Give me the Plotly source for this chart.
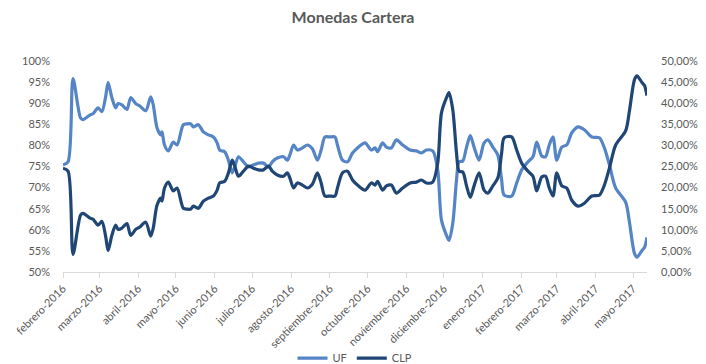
import plotly.graph_objects as go

dates = [
    "2016-02-01", "2016-02-05", "2016-02-09", "2016-02-15", "2016-02-17", "2016-02-23", "2016-02-25", "2016-02-29", "2016-03-03", "2016-03-06",
    "2016-03-08", "2016-03-11", "2016-03-14", "2016-03-16", "2016-03-19", "2016-03-23", "2016-03-26", "2016-03-30", "2016-04-02", "2016-04-07",
    "2016-04-11", "2016-04-13", "2016-04-16", "2016-04-19", "2016-04-20", "2016-04-22", "2016-04-25", "2016-04-29", "2016-05-02", "2016-05-07",
    "2016-05-10", "2016-05-13", "2016-05-15", "2016-05-19", "2016-05-23", "2016-05-27", "2016-05-31", "2016-06-03", "2016-06-05", "2016-06-09",
    "2016-06-12", "2016-06-15", "2016-06-17", "2016-06-20", "2016-06-24", "2016-06-28", "2016-07-02", "2016-07-06", "2016-07-10", "2016-07-14",
    "2016-07-17", "2016-07-21", "2016-07-26", "2016-07-29", "2016-07-31", "2016-08-03", "2016-08-06", "2016-08-10", "2016-08-14", "2016-08-18",
    "2016-08-22", "2016-08-25", "2016-08-28", "2016-09-01", "2016-09-05", "2016-09-07", "2016-09-11", "2016-09-15", "2016-09-19", "2016-09-23",
    "2016-09-29", "2016-10-04", "2016-10-07", "2016-10-09", "2016-10-13", "2016-10-16", "2016-10-20", "2016-10-24", "2016-10-29", "2016-11-04",
    "2016-11-09", "2016-11-13", "2016-11-17", "2016-11-22", "2016-11-26", "2016-11-29", "2016-12-03", "2016-12-05", "2016-12-08", "2016-12-11",
    "2016-12-13", "2016-12-16", "2016-12-19", "2016-12-22", "2016-12-25", "2016-12-29", "2017-01-02", "2017-01-05", "2017-01-09", "2017-01-13",
    "2017-01-16", "2017-01-18", "2017-01-24", "2017-01-28", "2017-02-01", "2017-02-06", "2017-02-10", "2017-02-13", "2017-02-17", "2017-02-20",
    "2017-02-23", "2017-02-26", "2017-03-01", "2017-03-05", "2017-03-09", "2017-03-13", "2017-03-18", "2017-03-23", "2017-03-29", "2017-04-04",
    "2017-04-08", "2017-04-12", "2017-04-17", "2017-04-25", "2017-04-28", "2017-05-02", "2017-05-04", "2017-05-08", "2017-05-10", "2017-05-12",
]

uf_pct = [
    75.4, 76.1, 95.8, 86.5, 86.1, 87.3, 87.5, 88.9, 88.0, 91.5,
    94.9, 91.3, 88.9, 89.9, 89.6, 88.5, 91.3, 89.9, 89.4, 88.2,
    91.5, 89.6, 84.2, 82.5, 83.2, 80.1, 78.7, 80.8, 80.1, 84.9,
    85.1, 85.1, 84.4, 84.9, 83.2, 82.5, 82.0, 80.6, 78.9, 78.5,
    76.5, 73.5, 74.9, 77.3, 76.1, 74.9, 75.4, 75.8, 75.8, 74.9,
    76.1, 77.0, 77.3, 76.5, 77.7, 80.1, 78.9, 79.4, 80.1, 79.2,
    76.5, 78.9, 82.0, 82.0, 82.0, 80.1, 76.5, 76.1, 78.2, 79.4,
    80.6, 78.9, 79.4, 78.5, 80.6, 79.6, 79.4, 81.3, 80.1, 78.9,
    78.7, 78.2, 78.9, 78.7, 74.2, 62.3, 58.7, 57.5, 61.5, 71.8,
    76.1, 76.3, 79.6, 82.3, 79.6, 76.5, 80.6, 81.3, 79.6, 77.7,
    71.8, 68.2, 68.0, 71.1, 74.2, 76.1, 77.3, 80.8, 77.5, 77.3,
    80.1, 82.0, 76.5, 79.6, 80.1, 83.0, 84.4, 83.7, 82.0, 81.8,
    79.4, 75.4, 69.9, 66.5, 61.8, 54.4, 53.5, 55.1, 55.8, 58.2,
]

clp_pct = [
    24.6, 23.9, 4.2, 13.5, 13.9, 12.7, 12.5, 11.1, 12.0, 8.5,
    5.1, 8.7, 11.1, 10.1, 10.4, 11.5, 8.7, 10.1, 10.6, 11.8,
    8.5, 10.4, 15.8, 17.5, 16.8, 19.9, 21.3, 19.2, 19.9, 15.1,
    14.9, 14.9, 15.6, 15.1, 16.8, 17.5, 18.0, 19.4, 21.1, 21.5,
    23.5, 26.5, 25.1, 22.7, 23.9, 25.1, 24.6, 24.2, 24.2, 25.1,
    23.9, 23.0, 22.7, 23.5, 22.3, 19.9, 21.1, 20.6, 19.9, 20.8,
    23.5, 21.1, 18.0, 18.0, 18.0, 19.9, 23.5, 23.9, 21.8, 20.6,
    19.4, 21.1, 20.6, 21.5, 19.4, 20.4, 20.6, 18.7, 19.9, 21.1,
    21.3, 21.8, 21.1, 21.3, 25.8, 37.7, 41.3, 42.5, 38.5, 28.2,
    23.9, 23.7, 20.4, 17.7, 20.4, 23.5, 19.4, 18.7, 20.4, 22.3,
    28.2, 31.8, 32.0, 28.9, 25.8, 23.9, 22.7, 19.2, 22.5, 22.7,
    19.9, 18.0, 23.5, 20.4, 19.9, 17.0, 15.6, 16.3, 18.0, 18.2,
    20.6, 24.6, 30.1, 33.5, 38.2, 45.6, 46.5, 44.9, 44.2, 41.8,
]

month_ticks = [
    "2016-02-01", "2016-03-01", "2016-04-01", "2016-05-01", "2016-06-01", "2016-07-01", "2016-08-01", "2016-09-01",
    "2016-10-01", "2016-11-01", "2016-12-01", "2017-01-01", "2017-02-01", "2017-03-01", "2017-04-01", "2017-05-01",
]
month_labels = [
    "febrero-2016", "marzo-2016", "abril-2016", "mayo-2016", "junio-2016", "julio-2016", "agosto-2016", "septiembre-2016",
    "octubre-2016", "noviembre-2016", "diciembre-2016", "enero-2017", "febrero-2017", "marzo-2017", "abril-2017", "mayo-2017",
]

uf = [v / 100 for v in uf_pct]
clp = [v / 100 for v in clp_pct]

FONT = "Lato"
GRAY = "#595959"

fig = go.Figure()
fig.add_trace(go.Scatter(
    x=dates, y=uf, name="UF", mode="lines",
    line=dict(color="#5585C5", width=3.2, shape="spline", smoothing=0.8),
))
fig.add_trace(go.Scatter(
    x=dates, y=clp, name="CLP", mode="lines", yaxis="y2",
    line=dict(color="#1F4675", width=3.2, shape="spline", smoothing=0.8),
))

fig.update_layout(
    width=706, height=364,
    margin=dict(l=63, r=59, t=61, b=92, autoexpand=False),
    paper_bgcolor="white", plot_bgcolor="white",
    separators=",.",
    font=dict(family=FONT, size=11, color=GRAY),
    title=dict(text="<b>Monedas Cartera</b>", x=0.5, xanchor="center",
               y=0.953, yanchor="middle", font=dict(family=FONT, size=16, color=GRAY)),
    xaxis=dict(
        type="date", range=["2016-02-01", "2017-05-12"], automargin=False,
        tickmode="array", tickvals=month_ticks, ticktext=month_labels,
        tickangle=-45, ticks="outside", ticklen=5, tickcolor="#D9D9D9",
        showline=True, linecolor="#D9D9D9", linewidth=1,
        showgrid=False, zeroline=False,
        tickfont=dict(family=FONT, size=11, color=GRAY),
    ),
    yaxis=dict(
        range=[0.5, 1.0], tickmode="linear", tick0=0.5, dtick=0.05, tickformat=".0%",
        showgrid=False, zeroline=False, showline=False, ticklabelstandoff=12, automargin=False,
        tickfont=dict(family=FONT, size=11, color=GRAY),
    ),
    yaxis2=dict(
        range=[0.0, 0.5], tickmode="linear", tick0=0, dtick=0.05, tickformat=".2%",
        overlaying="y", side="right", automargin=False,
        showgrid=False, zeroline=False, showline=False, ticklabelstandoff=13,
        tickfont=dict(family=FONT, size=11, color=GRAY),
    ),
    legend=dict(orientation="h", x=0.5, xanchor="center", yref="container", y=0.016, yanchor="middle",
                bgcolor="rgba(0,0,0,0)",
                font=dict(family=FONT, size=11, color=GRAY), itemwidth=30),
    showlegend=True,
)

fig.write_html("out.html")
